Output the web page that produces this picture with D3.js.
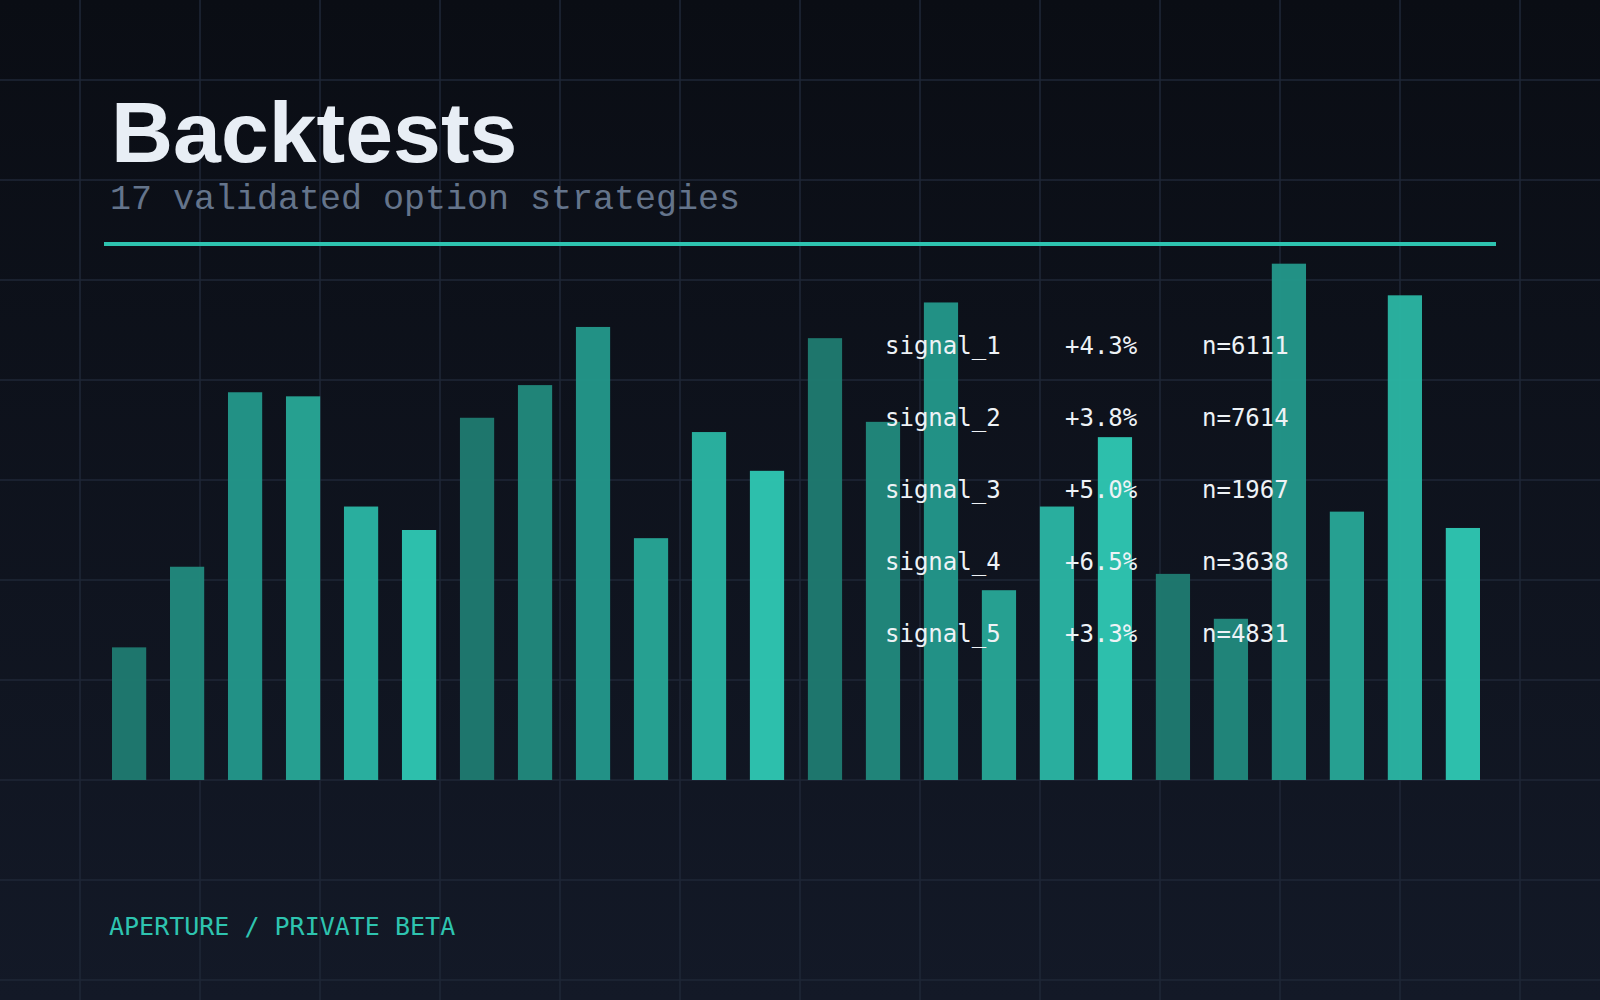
<!DOCTYPE html>
<html>
<head>
<meta charset="utf-8">
<script src="https://cdn.jsdelivr.net/npm/d3@7"></script>
<style>
  body { margin: 0; background: #0b0f17; }
  svg { display: block; }
</style>
</head>
<body>
<svg id="chart" width="1600" height="1000"></svg>
<script>
// bar heights (arbitrary units)
var barValues = [130, 209, 380, 376, 268, 245, 355, 387, 444, 237, 341, 303,
                 433, 351, 468, 186, 268, 336, 202, 158, 506, 263, 475, 247]
var shades = ["#1f7a6f", "#21887c", "#239689", "#27a595", "#2ab4a2", "#2ec5b1"]

var signalNames = ["signal_1", "signal_2", "signal_3", "signal_4", "signal_5"]
var signalReturns = ["+4.3%", "+3.8%", "+5.0%", "+6.5%", "+3.3%"]
var signalCounts = ["n=6111", "n=7614", "n=1967", "n=3638", "n=4831"]

var W = 1600, H = 1000
var svg = d3.select("#chart")

var defs = svg.append("defs")
var grad = defs.append("linearGradient").attr("id", "bg").attr("x1", 0).attr("y1", 0).attr("x2", 0).attr("y2", 1)
grad.append("stop").attr("offset", "0%").attr("stop-color", "#0a0d14")
grad.append("stop").attr("offset", "100%").attr("stop-color", "#131927")
svg.append("rect").attr("width", W).attr("height", H).attr("fill", "url(#bg)")

// grid
var grid = svg.append("g").attr("stroke", "#1f2737").attr("stroke-width", 1.5)
d3.range(80, W, 120).forEach(function(x){
  grid.append("line").attr("x1", x).attr("x2", x).attr("y1", 0).attr("y2", H)
})
d3.range(80, H, 100).forEach(function(y){
  grid.append("line").attr("x1", 0).attr("x2", W).attr("y1", y).attr("y2", y)
})

// bars
var x = d3.scaleBand().domain(d3.range(barValues.length)).range([112, 1480]).paddingInner(0.41).paddingOuter(0)
var y = d3.scaleLinear().domain([0, 520]).range([780, 780 - 530.6])

svg.append("g").selectAll("rect").data(barValues).enter().append("rect")
  .attr("x", function(d, i){ return x(i) })
  .attr("y", function(d){ return y(d) })
  .attr("width", x.bandwidth())
  .attr("height", function(d){ return y(0) - y(d) })
  .attr("fill", function(d, i){ return shades[i % shades.length] })
  .attr("fill-opacity", 0.97)

// header
svg.append("text").attr("x", 111).attr("y", 162)
  .attr("font-family", "Liberation Sans, Arial, sans-serif").attr("font-weight", "bold")
  .attr("font-size", 86).attr("fill", "#e8eef5").text("Backtests")
svg.append("text").attr("x", 110).attr("y", 209)
  .attr("font-family", "Liberation Mono, monospace").attr("font-size", 35)
  .attr("fill", "#64748b").text("17 validated option strategies")
svg.append("rect").attr("x", 104).attr("y", 242).attr("width", 1392).attr("height", 4).attr("fill", "#2ec4b0")

// signal table
var mono = "DejaVu Sans Mono, monospace"
var rows = svg.append("g").attr("font-family", mono).attr("font-size", 24).attr("fill", "#eef2f6")
signalNames.forEach(function(name, i){
  var yy = 354 + i * 72
  rows.append("text").attr("x", 885).attr("y", yy).text(name)
  rows.append("text").attr("x", 1065).attr("y", yy).text(signalReturns[i])
  rows.append("text").attr("x", 1202).attr("y", yy).text(signalCounts[i])
})

// footer
svg.append("text").attr("x", 109).attr("y", 935)
  .attr("font-family", mono).attr("font-size", 25).attr("fill", "#2ec4b0")
  .text("APERTURE / PRIVATE BETA")
</script>
</body>
</html>
